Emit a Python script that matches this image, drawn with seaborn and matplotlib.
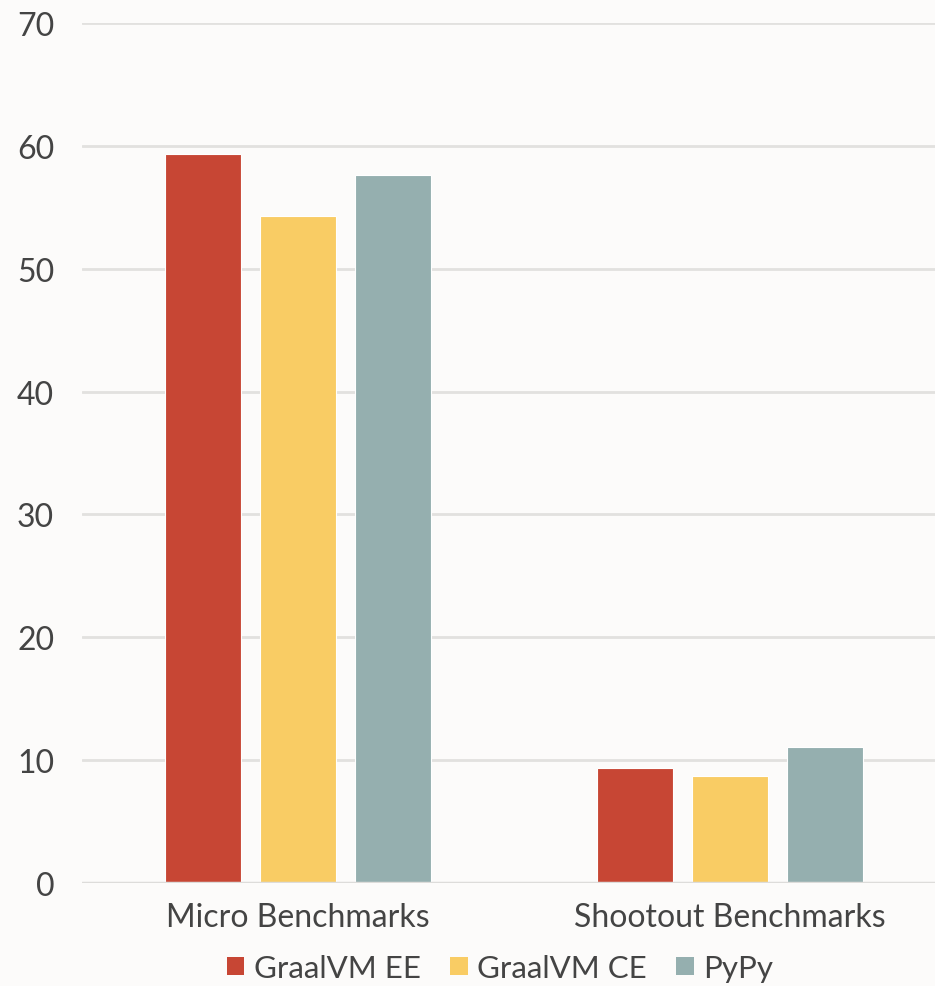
import matplotlib
matplotlib.use("Agg")
import matplotlib.pyplot as plt
import seaborn as sns
import pandas as pd

categories = ["Micro Benchmarks", "Shootout Benchmarks"]
series = ["GraalVM EE", "GraalVM CE", "PyPy"]
graalvm_ee = [59.3, 9.4]
graalvm_ce = [54.3, 8.7]
pypy = [57.6, 11.1]
colors = ["#C74634", "#F9CC64", "#95AFAF"]

rows = []
for s, vals in zip(series, [graalvm_ee, graalvm_ce, pypy]):
    for c, v in zip(categories, vals):
        rows.append({"category": c, "series": s, "value": v})
df = pd.DataFrame(rows)

sns.set_style("white")
plt.rcParams["font.family"] = ["Lato", "DejaVu Sans"]
bg = "#FCFBFA"
fig = plt.figure(figsize=(9.35, 9.87), dpi=100, facecolor=bg)
ax = fig.add_axes([82/935, 1-884/987, 1-82/935, (884-24)/987])
ax.set_facecolor(bg)

sns.barplot(data=df, x="category", y="value", hue="series", hue_order=series,
            palette=colors, saturation=1, width=0.66, gap=0.2, ax=ax, legend=False,
            edgecolor="white", linewidth=0.8, zorder=3)

ax.set_ylim(0, 70)
ax.set_yticks(range(0, 71, 10))
ax.set_xlim(-0.5, -0.5 + 853/432)
ax.yaxis.grid(True, color="#E2E1DF", linewidth=2, zorder=0)
ax.set_axisbelow(True)
for sp in ["top", "right", "left", "bottom"]:
    ax.spines[sp].set_visible(False)
ax.axhline(0, color="#DDDCDA", linewidth=2.5, zorder=4)
ax.set_xlabel("")
ax.set_ylabel("")
ax.tick_params(axis="both", length=0, labelsize=23, labelcolor="#444444")
ax.tick_params(axis="y", pad=20)
ax.tick_params(axis="x", pad=14)

from matplotlib.patches import Patch
handles = [Patch(facecolor=c, edgecolor="none") for c in colors]
fig.legend(handles, series, loc="center", bbox_to_anchor=(500/935, 1-969/987),
           ncol=3, frameon=False, fontsize=22.5, handlelength=0.55, handleheight=0.55,
           handletextpad=0.3, columnspacing=0.95, labelcolor="#444444")

fig.savefig("out.png", dpi=100, facecolor=bg)
